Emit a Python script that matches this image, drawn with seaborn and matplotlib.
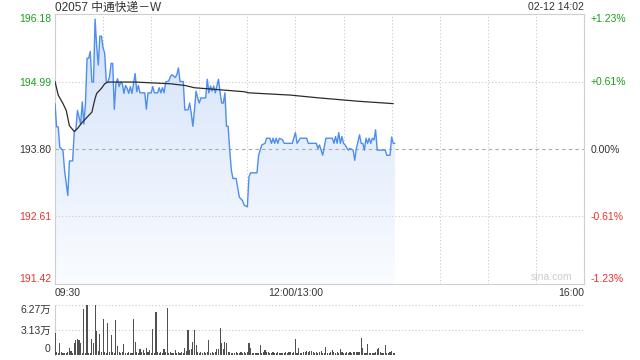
import numpy as np
import pandas as pd
import matplotlib
matplotlib.use("Agg")
import matplotlib.pyplot as plt
import seaborn as sns
from matplotlib.colors import LinearSegmentedColormap

# ---------------- data ----------------
title = "02057 中通快递－W"
stamp = "02-12 14:02"
prev_close = 193.80
price_ticks = [191.42, 192.61, 193.80, 194.99, 196.18]
pct_labels = ["-1.23%", "-0.61%", "0.00%", "+0.61%", "+1.23%"]
time_label_minutes = [0, 150, 330]
time_labels = ["09:30", "12:00/13:00", "16:00"]
session_minutes = 330
vol_ticks = [0, 3.13, 6.27]
vol_labels = ["0", "3.13万", "6.27万"]

price_minutes = [0, 1, 2, 3, 5, 6, 8, 9, 11, 12, 13, 14, 16, 17, 18, 19, 20, 21, 22, 23,
                 24, 25, 26, 27, 28, 29, 30, 31, 32, 33, 34, 35, 36, 37, 38, 39, 40, 41, 42, 43,
                 44, 45, 46, 47, 48, 49, 50, 51, 52, 53, 56, 57, 58, 60, 61, 62, 64, 65, 66, 67,
                 68, 69, 71, 72, 73, 75, 76, 77, 78, 80, 81, 83, 84, 85, 86, 87, 88, 89, 90, 91,
                 94, 95, 96, 97, 98, 99, 100, 101, 102, 103, 104, 105, 106, 107, 108, 109, 110, 111, 113, 115,
                 117, 118, 120, 121, 122, 126, 127, 129, 131, 132, 134, 135, 136, 137, 138, 139, 140, 142, 143, 148,
                 150, 151, 153, 157, 158, 163, 164, 165, 166, 167, 169, 173, 174, 175, 176, 177, 178, 179, 180, 181,
                 183, 184, 186, 187, 188, 190, 191, 192, 193, 194, 195, 196, 197, 198, 199, 200, 201, 206, 207, 209,
                 210, 211, 212]
price_values = [194.60, 194.19, 194.19, 193.83, 193.77, 193.41, 192.98, 193.59, 193.59, 194.10,
                194.13, 194.48, 194.24, 194.63, 194.24, 194.60, 195.40, 195.40, 195.52, 194.98,
                194.98, 196.09, 195.61, 195.28, 195.79, 195.79, 195.58, 195.49, 194.98, 194.98,
                195.07, 195.31, 195.31, 194.50, 194.95, 195.04, 194.90, 194.98, 194.95, 194.78,
                194.92, 194.87, 194.78, 194.90, 194.78, 194.95, 195.13, 194.81, 194.92, 194.79,
                194.79, 194.50, 194.79, 194.79, 194.90, 194.79, 194.79, 194.88, 194.79, 194.88,
                194.79, 194.98, 195.00, 195.08, 195.11, 195.06, 195.11, 195.23, 194.99, 194.99,
                194.49, 194.49, 194.61, 194.43, 194.20, 194.49, 194.82, 194.70, 194.61, 194.70,
                194.70, 195.03, 194.79, 194.91, 194.82, 194.91, 194.79, 194.91, 195.03, 194.79,
                194.61, 194.61, 194.79, 194.20, 194.20, 193.78, 193.43, 193.28, 193.28, 192.95,
                192.89, 192.81, 192.78, 193.31, 193.38, 193.38, 193.69, 193.87, 193.90, 193.99,
                193.99, 193.90, 193.99, 193.90, 193.99, 193.90, 193.99, 193.96, 193.90, 193.90,
                194.09, 193.90, 193.99, 193.99, 193.90, 193.90, 193.81, 193.87, 193.78, 193.69,
                193.99, 193.99, 193.90, 194.02, 193.90, 194.09, 193.90, 194.02, 193.90, 193.87,
                193.78, 193.81, 193.78, 193.60, 193.81, 194.05, 193.90, 193.90, 193.78, 193.99,
                193.90, 193.99, 193.90, 193.99, 193.96, 194.14, 193.78, 193.78, 193.69, 193.69,
                194.01, 193.90, 193.90]

avg_minutes = [0, 2, 5, 7, 9, 12, 14, 17, 20, 23, 25, 26, 29, 31, 33, 50, 72, 81, 87, 118,
               121, 147, 165, 190, 211]
avg_values = [194.99, 194.75, 194.60, 194.48, 194.21, 194.11, 194.16, 194.27, 194.36, 194.45,
              194.69, 194.78, 194.87, 194.95, 194.98, 194.98, 194.95, 194.92, 194.88, 194.81,
              194.79, 194.75, 194.70, 194.64, 194.60]

# volume per minute (in 万 shares), minute 0 = 09:30
volume_wan = [2.65, 0.34, 0.20, 1.39, 0.34, 0.20, 0.25, 0.20, 0.30, 0.84,
              0.45, 0.20, 1.39, 1.81, 1.94, 1.81, 1.39, 0.25, 5.72, 0.25,
              6.23, 0.25, 0.20, 1.89, 1.39, 6.27, 2.99, 0.50, 2.52, 0.34,
              4.46, 0.34, 0.25, 4.00, 0.34, 2.44, 0.34, 0.25, 4.33, 1.09,
              0.34, 0.25, 0.34, 1.35, 0.25, 0.20, 0.34, 0.25, 0.20, 4.46,
              1.60, 0.34, 0.25, 0.63, 0.34, 0.55, 0.25, 0.76, 0.34, 0.55,
              0.25, 3.16, 0.25, 5.30, 0.34, 0.25, 0.34, 0.25, 0.67, 0.34,
              5.89, 0.25, 0.34, 0.20, 0.25, 0.55, 0.25, 0.34, 0.25, 0.34,
              0.20, 0.88, 0.45, 3.07, 0.55, 0.63, 1.60, 3.07, 1.18, 0.34,
              0.25, 0.34, 0.25, 0.34, 0.25, 0.34, 1.81, 0.25, 0.34, 0.25,
              0.34, 0.63, 0.63, 3.28, 1.47, 0.67, 1.60, 1.47, 0.34, 0.34,
              0.20, 0.20, 0.25, 0.34, 0.25, 0.25, 0.34, 0.25, 0.34, 0.20,
              0.34, 1.39, 0.84, 0.20, 0.20, 0.25, 0.20, 0.25, 1.18, 0.25,
              0.34, 0.55, 0.34, 0.34, 0.25, 0.20, 0.34, 0.20, 0.25, 0.34,
              0.25, 0.20, 0.25, 0.25, 0.34, 0.25, 0.34, 0.34, 0.25, 0.34,
              1.98, 0.25, 0.84, 0.25, 0.25, 0.34, 0.34, 0.46, 0.34, 0.46,
              0.46, 0.34, 0.25, 0.34, 0.25, 0.34, 0.46, 0.25, 0.20, 0.97,
              0.25, 0.20, 0.34, 0.55, 0.34, 0.25, 0.34, 0.25, 0.63, 0.34,
              0.25, 0.20, 0.34, 0.25, 0.34, 0.25, 0.34, 0.34, 0.34, 0.34,
              0.34, 2.10, 0.76, 0.20, 0.13, 1.30, 0.25, 0.20, 0.25, 0.20,
              0.34, 0.63, 0.88, 0.34, 0.20, 0.25, 1.18, 0.20, 0.25, 0.34,
              0.42, 0.25, 0.20]
volume_minutes = list(range(len(volume_wan)))

# ---------------- style ----------------
sns.set_theme(style="white")
plt.rcParams["font.family"] = ["Liberation Sans", "Noto Sans CJK SC", "DejaVu Sans"]

GREEN = "#1a9e1a"
RED = "#e8322e"
DARK = "#333333"
GRID = "#c9c9c9"
DOT = (0, (1, 2))

W, H = 640, 360
fig = plt.figure(figsize=(6.4, 3.6), dpi=100)
ax = fig.add_axes([55 / W, 1 - 284 / H, (584 - 55) / W, (284 - 14) / H])
axv = fig.add_axes([55 / W, 1 - 354.5 / H, (584 - 55) / W, (354.5 - 304.7) / H])

ymin, ymax = price_ticks[0], price_ticks[-1]

# ---------------- price panel ----------------
df = pd.DataFrame({"minute": price_minutes, "price": price_values})
poly = ax.fill_between(df["minute"], df["price"], ymin, color="none", lw=0)
cmap = LinearSegmentedColormap.from_list("g", ["#fafcff", "#d2e1fa"])
grad = np.linspace(0, 1, 256).reshape(-1, 1)
im = ax.imshow(grad, extent=[0, session_minutes, ymin, ymax], origin="lower",
               aspect="auto", cmap=cmap, zorder=1)
im.set_clip_path(poly.get_paths()[0], transform=ax.transData)

sns.lineplot(data=df, x="minute", y="price", ax=ax, color="#4d8ef0", lw=1.0,
             zorder=4, estimator=None)
dfa = pd.DataFrame({"minute": avg_minutes, "avg": avg_values})
sns.lineplot(data=dfa, x="minute", y="avg", ax=ax, color="#2b2b2b", lw=0.9,
             zorder=5, estimator=None)

ax.set_xlim(0, session_minutes)
ax.set_ylim(ymin, ymax)
ax.set_xlabel("")
ax.set_ylabel("")

ax.set_xticks(time_label_minutes, time_labels)
ax.set_xticks(list(range(30, session_minutes, 30)), minor=True)
ax.grid(axis="x", which="both", ls=DOT, color=GRID, lw=0.8, zorder=2)
for v in price_ticks[1:-1]:
    if v == prev_close:
        ax.axhline(v, ls=(0, (3, 3)), color="#a8a8a8", lw=0.8, zorder=2)
    else:
        ax.axhline(v, ls=DOT, color=GRID, lw=0.8, zorder=2)

ax.set_yticks(price_ticks, [f"{v:.2f}" for v in price_ticks])
ax.tick_params(axis="both", which="both", length=0, labelsize=7.5, pad=3, colors=DARK)
xl = ax.get_xticklabels()
xl[0].set_ha("left")
xl[-1].set_ha("right")
ylabs = ax.get_yticklabels()
left_colors = [RED, RED, DARK, GREEN, GREEN]
for lab, c in zip(ylabs, left_colors):
    lab.set_color(c)
ylabs[0].set_va("bottom")
ylabs[-1].set_va("top")

for s in ax.spines.values():
    s.set_color("#cfcfcf")
    s.set_linewidth(0.8)

ax2 = ax.twinx()
ax2.set_ylim((ymin - prev_close) / prev_close * 100, (ymax - prev_close) / prev_close * 100)
ax2.set_yticks([(v - prev_close) / prev_close * 100 for v in price_ticks], pct_labels)
ax2.tick_params(axis="y", length=0, labelsize=7.5, pad=5)
rlabs = ax2.get_yticklabels()
for lab, c in zip(rlabs, left_colors):
    lab.set_color(c)
rlabs[0].set_va("bottom")
rlabs[-1].set_va("top")
for s in ax2.spines.values():
    s.set_visible(False)
ax2.grid(False)

ax.text(0.978, 0.008, "sina.com", transform=ax.transAxes, ha="right", va="bottom",
        fontsize=7.5, color="#cccccc", zorder=6)

fig.text(55 / W, 1 - 7.5 / H, title, ha="left", va="center", fontsize=8.5, color=DARK)
fig.text(584 / W, 1 - 7.5 / H, stamp, ha="right", va="center", fontsize=7.5, color=DARK)

# ---------------- volume panel ----------------
dfv = pd.DataFrame({"minute": volume_minutes, "vol": volume_wan})
sns.barplot(data=dfv, x="minute", y="vol", native_scale=True, color="#505050",
            saturation=1, width=0.7, errorbar=None, linewidth=0, ax=axv, zorder=3)
axv.set_xlim(0, session_minutes)
axv.set_ylim(vol_ticks[0], vol_ticks[-1])
axv.set_xlabel("")
axv.set_ylabel("")
axv.set_xticks([])
axv.set_yticks(vol_ticks, vol_labels)
axv.tick_params(axis="y", length=0, labelsize=7.5, pad=3, colors=DARK)
vl = axv.get_yticklabels()
vl[0].set_va("bottom")
vl[-1].set_va("top")
for v in vol_ticks:
    axv.axhline(v, ls=DOT, color=GRID, lw=0.8, zorder=1)
for k, s in axv.spines.items():
    if k == "left":
        s.set_color("#cfcfcf")
        s.set_linewidth(0.8)
    else:
        s.set_visible(False)

fig.savefig("out.png", dpi=100, facecolor="white")
